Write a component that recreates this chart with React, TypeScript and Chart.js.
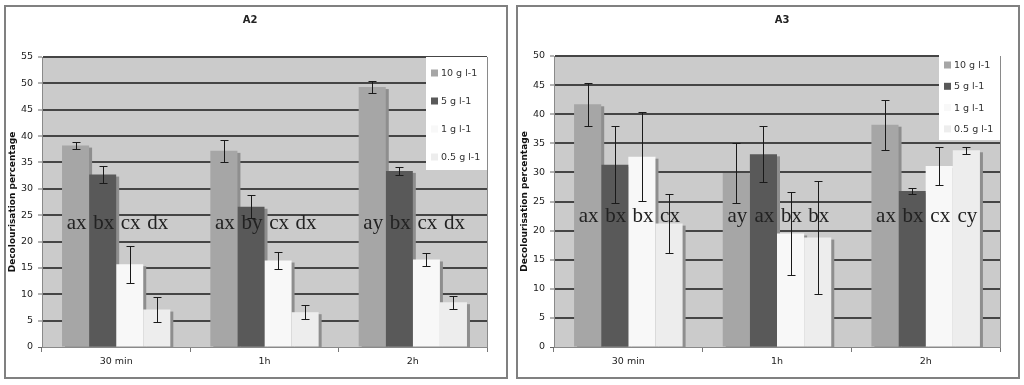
import React, { useEffect, useRef } from 'react';
import { Chart, registerables } from 'chart.js';

Chart.register(...registerables);

// ---------- data ----------
const categories = ['30 min', '1h', '2h'];
const seriesLabels = ['10 g l-1', '5 g l-1', '1 g l-1', '0.5 g l-1'];
const seriesColors = ['#a6a6a6', '#595959', '#f8f8f8', '#ededed'];

// A2
const a2Values10 = [38.2, 37.2, 49.3];
const a2Values5 = [32.7, 26.6, 33.4];
const a2Values1 = [15.7, 16.4, 16.6];
const a2Values05 = [7.1, 6.6, 8.5];
const a2Err10 = [0.7, 2.1, 1.2];
const a2Err5 = [1.6, 2.2, 0.8];
const a2Err1 = [3.5, 1.6, 1.3];
const a2Err05 = [2.3, 1.3, 1.2];
const a2Letters10 = ['ax', 'ax', 'ay'];
const a2Letters5 = ['bx', 'by', 'bx'];
const a2Letters1 = ['cx', 'cx', 'cx'];
const a2Letters05 = ['dx', 'dx', 'dx'];
const a2Ticks = { max: 55, step: 5 };

// A3
const a3Values10 = [41.7, 29.9, 38.2];
const a3Values5 = [31.3, 33.1, 26.8];
const a3Values1 = [32.7, 19.5, 31.1];
const a3Values05 = [21.2, 18.8, 33.8];
const a3Err10 = [3.7, 5.2, 4.3];
const a3Err5 = [6.6, 4.8, 0.5];
const a3Err1 = [7.7, 7.1, 3.2];
const a3Err05 = [5.1, 9.7, 0.6];
const a3Letters10 = ['ax', 'ay', 'ax'];
const a3Letters5 = ['bx', 'ax', 'bx'];
const a3Letters1 = ['bx', 'bx', 'cx'];
const a3Letters05 = ['cx', 'bx', 'cy'];
const a3Ticks = { max: 50, step: 5 };

const FONT = "'DejaVu Sans', Verdana, sans-serif";
const SERIF = "'Liberation Serif', 'Times New Roman', serif";

type PanelProps = {
  title: string;
  values: number[][];
  errors: number[][];
  letters: string[][];
  ticks: { max: number; step: number };
  letterValue: number;
  left: number;
  titleX: number;
  padTop: number;
  padRight: number;
  legend: { top: number; height: number; first: number; gap: number };
};

function Panel(p: PanelProps) {
  const ref = useRef<HTMLCanvasElement | null>(null);
  useEffect(() => {
    if (!ref.current) return;
    const datasets = p.values.map((vals, i) => ({
      label: seriesLabels[i],
      data: vals,
      backgroundColor: seriesColors[i],
      borderWidth: 0,
      barPercentage: 1,
      categoryPercentage: 0.73,
      errors: p.errors[i],
      letters: p.letters[i],
    }));

    const decor = {
      id: 'decor',
      beforeDraw(chart: any) {
        const { ctx, chartArea: a, width, height } = chart;
        ctx.save();
        ctx.fillStyle = '#ffffff';
        ctx.fillRect(0, 0, width, height);
        ctx.strokeStyle = '#808080';
        ctx.lineWidth = 2;
        ctx.strokeRect(1, 1, width - 2, height - 2);
        ctx.fillStyle = '#cbcbcb';
        ctx.fillRect(a.left, a.top, a.right - a.left, a.bottom - a.top);
        ctx.strokeStyle = '#8a8a8a';
        ctx.lineWidth = 1;
        ctx.beginPath();
        ctx.moveTo(a.right + 0.5, a.top);
        ctx.lineTo(a.right + 0.5, a.bottom);
        ctx.stroke();
        ctx.restore();
      },
      beforeDatasetsDraw(chart: any) {
        // bar shadows, drawn below all bars
        const ctx = chart.ctx;
        const a = chart.chartArea;
        ctx.save();
        ctx.fillStyle = '#8e8e8e';
        chart.data.datasets.forEach((_ds: any, di: number) => {
          const meta = chart.getDatasetMeta(di);
          meta.data.forEach((el: any) => {
            const w = el.width;
            const x0 = el.x - w / 2 + 3;
            const y0 = el.y + 2;
            ctx.fillRect(x0, y0, w, a.bottom - y0);
          });
        });
        ctx.restore();
      },
      afterDatasetsDraw(chart: any) {
        const ctx = chart.ctx;
        const y = chart.scales.y;
        const a = chart.chartArea;
        ctx.save();
        // error bars
        chart.data.datasets.forEach((ds: any, di: number) => {
          const meta = chart.getDatasetMeta(di);
          meta.data.forEach((el: any, i: number) => {
            const v = ds.data[i];
            const e = ds.errors[i];
            const x = Math.round(el.x) + 0.5;
            const yt = Math.round(y.getPixelForValue(v + e)) + 0.5;
            const yb = Math.round(y.getPixelForValue(v - e)) + 0.5;
            ctx.strokeStyle = '#1a1a1a';
            ctx.lineWidth = 1;
            ctx.beginPath();
            ctx.moveTo(x, yt);
            ctx.lineTo(x, yb);
            ctx.moveTo(x - 4, yt);
            ctx.lineTo(x + 4, yt);
            ctx.moveTo(x - 4, yb);
            ctx.lineTo(x + 4, yb);
            ctx.stroke();
          });
        });
        // letters
        ctx.fillStyle = '#222222';
        ctx.font = `21px ${SERIF}`;
        ctx.textAlign = 'center';
        ctx.textBaseline = 'alphabetic';
        const ly = y.getPixelForValue(p.letterValue);
        chart.data.datasets.forEach((ds: any, di: number) => {
          const meta = chart.getDatasetMeta(di);
          meta.data.forEach((el: any, i: number) => {
            ctx.fillText(ds.letters[i], el.x + 1, ly);
          });
        });
        // legend
        const lg = p.legend;
        const bx = a.right - 61;
        const by = a.top + lg.top;
        ctx.fillStyle = '#ffffff';
        ctx.fillRect(bx, by, a.right - bx, lg.height);
        ctx.font = `9.5px ${FONT}`;
        ctx.textAlign = 'left';
        ctx.textBaseline = 'middle';
        chart.data.datasets.forEach((ds: any, di: number) => {
          const cy = by + lg.first + di * lg.gap;
          ctx.fillStyle = ds.backgroundColor;
          ctx.fillRect(bx + 5, cy - 3.5, 7, 7);
          ctx.fillStyle = '#333333';
          ctx.fillText(ds.label, bx + 15, cy + 0.5);
        });
        ctx.restore();
      },
      afterDraw(chart: any) {
        const ctx = chart.ctx;
        ctx.save();
        ctx.fillStyle = '#222222';
        ctx.font = `bold 10px ${FONT}`;
        ctx.textAlign = 'center';
        ctx.textBaseline = 'middle';
        ctx.fillText(p.title, p.titleX, 15);
        ctx.restore();
      },
    };

    const chart = new Chart(ref.current, {
      type: 'bar',
      data: { labels: categories, datasets: datasets as any },
      options: {
        animation: false,
        responsive: false,
        maintainAspectRatio: false,
        layout: { padding: { left: 0, top: p.padTop, right: p.padRight, bottom: 7 } },
        plugins: {
          legend: { display: false },
          title: { display: false },
          tooltip: { enabled: false },
        },
        scales: {
          x: {
            afterFit: (s: any) => {
              s.height = 25;
            },
            grid: {
              drawOnChartArea: false,
              drawTicks: true,
              tickLength: 5,
              offset: true,
              color: '#777777',
            },
            border: { display: true, color: '#8a8a8a', width: 1 },
            ticks: { font: { family: FONT, size: 9.5 }, color: '#222222', padding: 4 },
          },
          y: {
            min: 0,
            max: p.ticks.max,
            afterFit: (s: any) => {
              s.width = 38;
            },
            ticks: {
              stepSize: p.ticks.step,
              font: { family: FONT, size: 9.5 },
              color: '#222222',
              padding: 5,
            },
            grid: {
              color: (c: any) => (c.tick && c.tick.value === 0 ? '#8a8a8a' : '#454545'),
              lineWidth: (c: any) => (c.tick && c.tick.value === 0 ? 1 : 2),
              tickLength: 4,
              tickColor: '#666666',
              tickWidth: 1,
            },
            border: { display: true, color: '#8a8a8a', width: 1 },
            title: {
              display: true,
              text: 'Decolourisation percentage',
              font: { family: FONT, size: 9, weight: 'bold' },
              color: '#111111',
              padding: { top: 3, bottom: 0 },
            },
          },
        },
      },
      plugins: [decor],
    } as any);
    return () => chart.destroy();
  }, []);

  return (
    <canvas
      ref={ref}
      width={504}
      height={374}
      style={{ position: 'absolute', left: p.left, top: 5, width: 504, height: 374 }}
    />
  );
}

export default function App() {
  return (
    <div style={{ position: 'absolute', left: 0, top: 0, width: 1024, height: 385, background: '#fff' }}>
      <Panel
        title="A2"
        values={[a2Values10, a2Values5, a2Values1, a2Values05]}
        errors={[a2Err10, a2Err5, a2Err1, a2Err05]}
        letters={[a2Letters10, a2Letters5, a2Letters1, a2Letters05]}
        ticks={a2Ticks}
        letterValue={22.4}
        left={4}
        titleX={246}
        padTop={52}
        padRight={21}
        legend={{ top: 0, height: 113, first: 16, gap: 28 }}
      />
      <Panel
        title="A3"
        values={[a3Values10, a3Values5, a3Values1, a3Values05]}
        errors={[a3Err10, a3Err5, a3Err1, a3Err05]}
        letters={[a3Letters10, a3Letters5, a3Letters1, a3Letters05]}
        ticks={a3Ticks}
        letterValue={21.5}
        left={516}
        titleX={266}
        padTop={51}
        padRight={20}
        legend={{ top: -1, height: 85, first: 10, gap: 21.3 }}
      />
    </div>
  );
}
